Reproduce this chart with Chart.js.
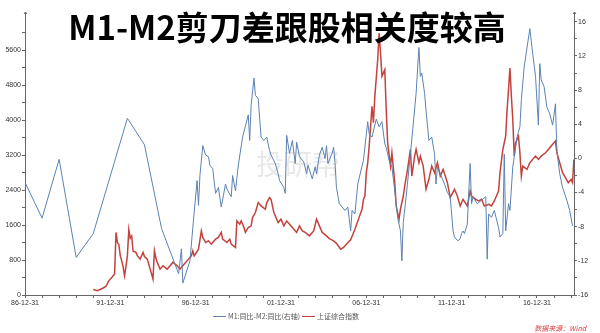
<!DOCTYPE html>
<html lang="zh-CN">
<head>
<meta charset="utf-8">
<title>M1-M2剪刀差跟股相关度较高</title>
<script src="https://cdn.jsdelivr.net/npm/chart.js@4.4.1/dist/chart.umd.min.js"></script>
<style>
  html, body { margin: 0; padding: 0; background: #fff; }
  #wrap { width: 600px; height: 333px; position: relative; }
</style>
</head>
<body>
<div id="wrap"><canvas id="chartM1M2"></canvas></div>
<script>
// M1同比 - M2同比 (右轴, 百分点), 月末
const spreadDates = [
  '1986-12', '1987-12', '1988-12', '1989-12', '1990-12', '1992-12', '1993-12', '1994-12',
  '1995-12', '1996-02', '1996-03', '1996-08', '1996-10', '1997-01', '1997-02', '1997-03',
  '1997-05', '1997-07', '1997-09', '1997-10', '1997-12', '1998-02', '1998-04', '1998-06',
  '1998-09', '1998-10', '1999-01', '1999-02', '1999-04', '1999-06', '1999-09', '2000-01',
  '2000-02', '2000-03', '2000-05', '2000-06', '2000-08', '2000-10', '2000-12', '2001-02',
  '2001-04', '2001-05', '2001-08', '2001-10', '2001-11', '2002-02', '2002-03', '2002-04',
  '2002-06', '2002-08', '2002-10', '2002-11', '2003-01', '2003-04', '2003-06', '2003-07',
  '2003-10', '2003-12', '2004-01', '2004-03', '2004-05', '2004-07', '2004-08', '2004-09',
  '2004-12', '2005-01', '2005-02', '2005-03', '2005-05', '2005-09', '2005-11', '2006-01',
  '2006-02', '2006-04', '2006-06', '2006-10', '2007-01', '2007-02', '2007-04', '2007-07',
  '2007-09', '2007-11', '2008-01', '2008-02', '2008-04', '2008-06', '2008-08', '2008-10',
  '2008-12', '2009-01', '2009-02', '2009-04', '2009-07', '2009-09', '2009-11', '2010-01',
  '2010-02', '2010-03', '2010-05', '2010-06', '2010-08', '2010-10', '2010-12', '2011-01',
  '2011-02', '2011-04', '2011-07', '2011-09', '2011-11', '2012-01', '2012-02', '2012-04',
  '2012-05', '2012-06', '2012-07', '2012-08', '2012-09', '2012-11', '2013-01', '2013-02',
  '2013-03', '2013-06', '2013-09', '2013-12', '2014-01', '2014-02', '2014-04', '2014-06',
  '2014-09', '2014-10', '2014-12', '2015-01', '2015-02', '2015-04', '2015-05', '2015-07',
  '2015-10', '2015-12', '2016-01', '2016-03', '2016-07', '2016-09', '2016-11', '2017-01',
  '2017-02', '2017-03', '2017-05', '2017-07', '2017-09', '2017-11', '2018-01', '2018-02',
  '2018-04', '2018-06', '2018-09', '2018-11', '2019-01'
];
const spreadValues = [
  -2.8, -7.0, -0.1, -11.6, -8.8, 4.7, 1.6, -8.2,
  -13.5, -10.6, -14.6, -12.0, -8.1, -2.6, -5.5, -2.0,
  1.5, 0.4, 0.2, -0.8, -1.2, -4.1, -3.4, -5.7,
  -3.0, -3.6, -4.5, -2.0, -3.8, -0.8, 2.5, 5.1,
  2.1, 6.2, 9.4, 7.4, 7.0, 2.5, 2.1, 2.5,
  0.9, 0.4, -0.6, -1.8, -2.6, -3.4, -4.1, 2.7,
  0.6, 2.1, -0.6, 1.9, 0.2, -0.4, -1.8, -0.8,
  -2.4, -1.0, -1.8, 0.4, 1.3, 0.0, 1.5, -0.6,
  0.6, 1.3, -0.5, -3.4, -5.3, -6.1, -5.7, -8.5,
  -6.1, -6.5, -3.0, -0.2, 4.3, 2.9, 2.5, 4.6,
  3.7, 4.3, 1.7, 1.3, -0.2, -1.0, -3.8, -6.9,
  -8.5, -12.0, -7.5, -4.5, 0.5, 4.0, 7.6, 13.0,
  9.6, 10.0, 7.6, 5.6, 2.1, 2.5, 0.5, -3.0,
  -1.0, -1.8, -3.0, -4.0, -4.5, -8.5, -9.2, -9.6,
  -9.6, -9.4, -8.8, -8.5, -8.8, -7.7, -0.6, -5.3,
  -4.5, -5.3, -4.9, -4.5, -11.8, -6.5, -6.9, -6.1,
  -8.1, -9.2, -8.8, 0.5, -8.5, -5.3, -6.1, -1.0,
  2.5, 3.7, 6.8, 10.7, 15.2, 12.3, 9.6, 3.9,
  11.1, 9.2, 8.4, 6.0, 5.2, 3.9, 6.4, 0.9,
  -1.8, -3.4, -4.9, -6.1, -7.9
];

// 上证综合指数 (左轴)
const sseDates = [
  '1990-12', '1991-03', '1991-07', '1991-09', '1991-11', '1992-01', '1992-03', '1992-04',
  '1992-05', '1992-06', '1992-07', '1992-08', '1992-09', '1992-10', '1992-11', '1992-12',
  '1993-01', '1993-02', '1993-03', '1993-04', '1993-06', '1993-07', '1993-09', '1993-11',
  '1993-12', '1994-02', '1994-04', '1994-05', '1994-06', '1994-07', '1994-08', '1994-09',
  '1994-11', '1995-01', '1995-04', '1995-06', '1995-08', '1995-11', '1996-01', '1996-04',
  '1996-07', '1996-09', '1996-10', '1996-11', '1997-02', '1997-04', '1997-05', '1997-07',
  '1997-09', '1997-11', '1998-02', '1998-04', '1998-06', '1998-07', '1998-10', '1998-12',
  '1999-01', '1999-04', '1999-05', '1999-07', '1999-08', '1999-10', '1999-11', '2000-01',
  '2000-03', '2000-04', '2000-06', '2000-08', '2000-10', '2001-01', '2001-02', '2001-04',
  '2001-05', '2001-07', '2001-09', '2001-10', '2001-12', '2002-02', '2002-04', '2002-06',
  '2002-09', '2002-11', '2003-01', '2003-03', '2003-05', '2003-08', '2003-11', '2004-01',
  '2004-03', '2004-05', '2004-08', '2004-10', '2005-01', '2005-03', '2005-06', '2005-08',
  '2005-10', '2006-01', '2006-04', '2006-07', '2006-09', '2006-10', '2006-11', '2006-12',
  '2007-01', '2007-02', '2007-04', '2007-05', '2007-06', '2007-08', '2007-09', '2007-10',
  '2007-11', '2008-01', '2008-02', '2008-03', '2008-05', '2008-06', '2008-08', '2008-09',
  '2008-11', '2008-12', '2009-02', '2009-03', '2009-05', '2009-07', '2009-08', '2009-10',
  '2009-11', '2010-01', '2010-02', '2010-04', '2010-06', '2010-08', '2010-10', '2010-12',
  '2011-02', '2011-04', '2011-06', '2011-09', '2011-11', '2012-02', '2012-04', '2012-06',
  '2012-08', '2012-11', '2013-01', '2013-02', '2013-05', '2013-07', '2013-09', '2013-11',
  '2014-02', '2014-04', '2014-06', '2014-09', '2014-10', '2014-12', '2015-02', '2015-03',
  '2015-04', '2015-05', '2015-06', '2015-07', '2015-08', '2015-09', '2015-11', '2015-12',
  '2016-01', '2016-02', '2016-05', '2016-07', '2016-09', '2016-11', '2017-01', '2017-03',
  '2017-06', '2017-08', '2017-10', '2018-01', '2018-02', '2018-04', '2018-06', '2018-08',
  '2018-10', '2018-12', '2019-01', '2019-02'
];
const sseValues = [
  127, 100, 160, 200, 330, 400, 480, 1430,
  1200, 1150, 900, 780, 650, 440, 650, 900,
  1500, 1300, 1350, 1000, 973, 900, 820, 973,
  880, 820, 592, 480, 365, 1010, 850, 745,
  590, 668, 592, 668, 745, 668, 592, 707,
  820, 895, 1010, 895, 1048, 1465, 1315, 1200,
  1237, 1162, 1276, 1315, 1430, 1276, 1200, 1276,
  1162, 1087, 1693, 1618, 1693, 1543, 1430, 1543,
  1580, 1770, 1885, 2113, 2035, 1960, 2113, 2227,
  2188, 1885, 1732, 1657, 1732, 1580, 1693, 1618,
  1504, 1430, 1580, 1465, 1430, 1352, 1465, 1732,
  1580, 1430, 1352, 1290, 1237, 1180, 1048, 1087,
  1162, 1260, 1504, 1780, 1960, 2188, 2263, 2796,
  3024, 3400, 4314, 3936, 4542, 5378, 5987, 5531,
  4998, 5150, 4239, 3480, 2947, 3252, 2568, 2035,
  1732, 1960, 2263, 2491, 2872, 3327, 2719, 3175,
  3327, 3024, 3175, 2947, 2416, 2644, 2947, 2796,
  3024, 2719, 2872, 2568, 2230, 2416, 2263, 2035,
  2188, 2035, 2377, 2263, 2188, 2149, 2188, 2035,
  2074, 2035, 2149, 2377, 2796, 3327, 3630, 4239,
  4695, 5190, 4542, 4011, 3175, 3480, 3630, 3252,
  2719, 2947, 2872, 3024, 3100, 3175, 3100, 3175,
  3252, 3327, 3404, 3517, 3252, 3024, 2796, 2682,
  2568, 2644, 2568, 3100
];

const chartTitle = 'M1-M2剪刀差跟股相关度较高';
const legendLabels = ['M1:同比-M2:同比(右轴)', '上证综合指数'];
const sourceText = '数据来源：Wind';
const watermarkText = '投研帮';

const BLUE = '#5b82b2';
const RED = '#c2423d';
const AXIS = '#666666';
const FONT = '"Liberation Sans", Arial, sans-serif';
const CJK = '"Noto Sans CJK SC", "Noto Sans", sans-serif';

// 'YYYY-MM' -> 年份小数 (月末)
function toYear(d) {
  const [y, m] = d.split('-').map(Number);
  return y + m / 12;
}

function toPoints(dates, values) {
  return dates.map((d, i) => ({ x: toYear(d), y: values[i] }));
}

// 标题、图例、来源、水印
const decorations = {
  id: 'decorations',
  beforeDatasetsDraw(chart) {
    const ctx = chart.ctx;
    ctx.save();
    ctx.fillStyle = 'rgba(0,0,0,0.09)';
    ctx.font = '28px ' + CJK;
    ctx.textAlign = 'center';
    ctx.textBaseline = 'middle';
    ctx.fillText(watermarkText, 298, 164);
    ctx.restore();
  },
  afterDraw(chart) {
    const ctx = chart.ctx;
    const area = chart.chartArea;
    ctx.save();

    // 坐标轴顶端箭头
    ctx.strokeStyle = AXIS;
    ctx.lineWidth = 1;
    [area.left, area.right].forEach(x => {
      const px = Math.round(x) + 0.5;
      ctx.beginPath();
      ctx.moveTo(px, area.top);
      ctx.lineTo(px, area.top - 3);
      ctx.moveTo(px - 1.5, area.top - 1);
      ctx.lineTo(px, area.top - 3);
      ctx.lineTo(px + 1.5, area.top - 1);
      ctx.stroke();
    });

    // 标题
    ctx.fillStyle = '#000';
    ctx.font = 'bold 33px ' + CJK;
    ctx.textAlign = 'center';
    ctx.textBaseline = 'middle';
    ctx.fillText(chartTitle, 287, 27);

    // 图例
    ctx.font = '7px ' + CJK;
    ctx.textAlign = 'left';
    ctx.fillStyle = '#555';
    const items = [
      { color: BLUE, x: 213 },
      { color: RED, x: 302 }
    ];
    items.forEach((it, i) => {
      ctx.strokeStyle = it.color;
      ctx.beginPath();
      ctx.moveTo(it.x, 316.5);
      ctx.lineTo(it.x + 13, 316.5);
      ctx.stroke();
      ctx.fillText(legendLabels[i], it.x + 15, 316.5);
    });

    // 数据来源
    ctx.fillStyle = '#d93a3a';
    ctx.font = 'italic 7px ' + CJK;
    ctx.textAlign = 'right';
    ctx.fillText(sourceText, 586, 328);
    ctx.restore();
  }
};

new Chart(document.getElementById('chartM1M2'), {
  type: 'line',
  data: {
    datasets: [
      {
        label: legendLabels[0],
        data: toPoints(spreadDates, spreadValues),
        borderColor: BLUE,
        borderWidth: 1,
        pointRadius: 0,
        tension: 0,
        yAxisID: 'yRight'
      },
      {
        label: legendLabels[1],
        data: toPoints(sseDates, sseValues),
        borderColor: RED,
        borderWidth: 1.5,
        pointRadius: 0,
        tension: 0,
        yAxisID: 'yLeft'
      }
    ]
  },
  options: {
    responsive: true,
    maintainAspectRatio: false,
    animation: false,
    events: [],
    layout: { padding: { top: 15, left: 0, right: 0, bottom: 0 } },
    plugins: {
      legend: { display: false },
      tooltip: { enabled: false }
    },
    scales: {
      x: {
        type: 'linear',
        min: 1987,
        max: 2019.17,
        afterBuildTicks: axis => {
          const t = [];
          for (let y = 1987; y <= 2019; y++) t.push({ value: y });
          axis.ticks = t;
        },
        afterFit: axis => { axis.height = 38; },
        ticks: {
          autoSkip: false,
          maxRotation: 0,
          padding: 1,
          color: '#333',
          font: { family: FONT, size: 7 },
          callback: v => (v - 1987) % 5 === 0
            ? String((v - 1) % 100).padStart(2, '0') + '-12-31'
            : ''
        },
        grid: { drawOnChartArea: false, tickLength: 3, tickColor: AXIS },
        border: { display: true, color: AXIS, width: 1 }
      },
      yLeft: {
        type: 'linear',
        position: 'left',
        min: 0,
        max: 6400,
        afterBuildTicks: axis => {
          const t = [];
          for (let v = 0; v <= 6000; v += 400) t.push({ value: v });
          axis.ticks = t;
        },
        afterFit: axis => { axis.width = 25; },
        ticks: {
          autoSkip: false,
          padding: 1,
          color: '#333',
          font: { family: FONT, size: 7 },
          callback: v => v % 800 === 0 ? String(v) : ''
        },
        grid: { drawOnChartArea: false, tickLength: 3, tickColor: AXIS },
        border: { display: true, color: AXIS, width: 1 }
      },
      yRight: {
        type: 'linear',
        position: 'right',
        min: -16,
        max: 16.8,
        afterBuildTicks: axis => {
          const t = [];
          for (let v = -16; v <= 16; v += 2) t.push({ value: v });
          axis.ticks = t;
        },
        afterFit: axis => { axis.width = 26; },
        ticks: {
          autoSkip: false,
          padding: 1,
          color: '#333',
          font: { family: FONT, size: 7 },
          callback: v => v % 4 === 0 ? String(v) : ''
        },
        grid: { drawOnChartArea: false, tickLength: 3, tickColor: AXIS },
        border: { display: true, color: AXIS, width: 1 }
      }
    }
  },
  plugins: [decorations]
});
</script>
</body>
</html>
